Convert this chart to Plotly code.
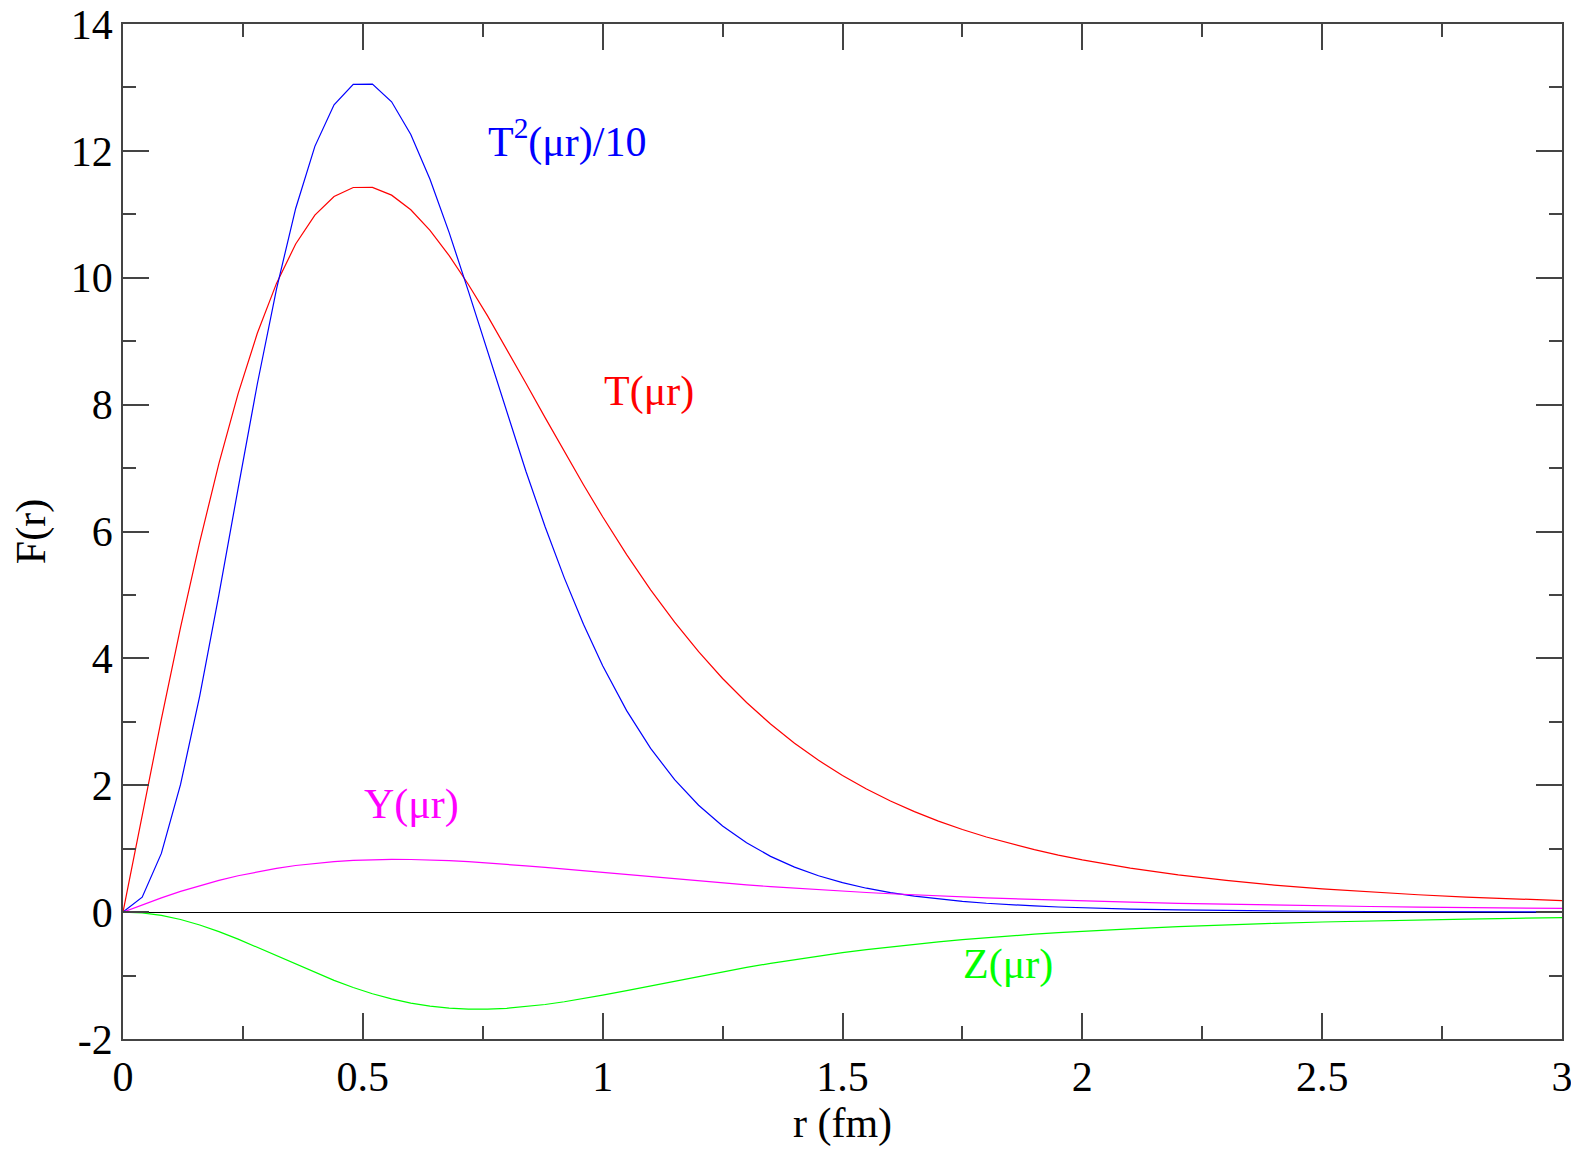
import plotly.graph_objects as go

r = [0.0, 0.04, 0.08, 0.12, 0.16, 0.20, 0.24, 0.28, 0.32, 0.36, 0.40, 0.44, 0.48,
     0.52, 0.56, 0.60, 0.64, 0.68, 0.72, 0.76, 0.80, 0.84, 0.88, 0.92, 0.96, 1.00,
     1.05, 1.1, 1.15, 1.2, 1.25, 1.3, 1.35, 1.4, 1.45, 1.5, 1.55, 1.6, 1.65, 1.7,
     1.75, 1.8, 1.85, 1.9, 1.95, 2.0, 2.1, 2.2, 2.3, 2.4, 2.5,
     2.6, 2.7, 2.8, 2.9, 3.0]

T_mu_r = [0.0, 1.537, 3.043, 4.487, 5.838, 7.074, 8.174, 9.124, 9.911, 10.532, 10.987,
          11.281, 11.423, 11.425, 11.302, 11.071, 10.748, 10.350, 9.894, 9.399, 8.875,
          8.336, 7.795, 7.259, 6.736, 6.232,
          5.636, 5.080, 4.570, 4.105, 3.683, 3.305, 2.965, 2.663, 2.393, 2.154, 1.941,
          1.752, 1.584, 1.435, 1.302, 1.184, 1.078, 0.984, 0.899, 0.823,
          0.693, 0.587, 0.499, 0.427, 0.367, 0.316, 0.274, 0.238, 0.207, 0.181]

T2_over_10 = [0.0, 0.236, 0.926, 2.013, 3.408, 5.004, 6.681, 8.325, 9.822, 11.092, 12.071,
              12.726, 13.048, 13.053, 12.774, 12.257, 11.552, 10.712, 9.790, 8.834, 7.877,
              6.949, 6.076, 5.269, 4.538, 3.884,
              3.176, 2.581, 2.088, 1.685, 1.357, 1.092, 0.879, 0.709, 0.573, 0.464, 0.377,
              0.307, 0.251, 0.206, 0.170, 0.140, 0.116, 0.097, 0.081, 0.068,
              0.048, 0.034, 0.025, 0.018, 0.0135, 0.0100, 0.0075, 0.0057, 0.0043, 0.0033]

Y_mu_r = [0.0, 0.1165, 0.2254, 0.3261, 0.4178, 0.5003, 0.5733, 0.6367, 0.6905, 0.7349,
          0.7703, 0.7971, 0.8158, 0.8271, 0.8315, 0.8299, 0.8227, 0.8109, 0.7951, 0.7759,
          0.7540, 0.7300, 0.7043, 0.6776, 0.6502, 0.6225,
          0.5880, 0.5539, 0.5208, 0.4890, 0.4585, 0.4296, 0.4023, 0.3767, 0.3527, 0.3303,
          0.3094, 0.2900, 0.2719, 0.2551, 0.2394, 0.2249, 0.2114, 0.1988, 0.1870, 0.1761,
          0.1564, 0.1392, 0.1242, 0.1109, 0.0993, 0.0890, 0.0799, 0.0719, 0.0647, 0.0583]

Z_mu_r = [0.0, -0.0133, -0.0526, -0.1165, -0.2024, -0.3068, -0.4256, -0.5545, -0.6885,
          -0.8230, -0.9536, -1.0764, -1.188, -1.286, -1.368, -1.434, -1.482, -1.514,
          -1.529, -1.529, -1.516, -1.491, -1.456, -1.413, -1.363, -1.309,
          -1.237, -1.162, -1.087, -1.012, -0.941, -0.872, -0.807, -0.747, -0.690, -0.638,
          -0.590, -0.546, -0.505, -0.468, -0.434, -0.403, -0.374, -0.348, -0.324, -0.302,
          -0.263, -0.230, -0.201, -0.177, -0.156, -0.138, -0.122, -0.109, -0.097, -0.086]

x_ticks = [0, 0.5, 1, 1.5, 2, 2.5, 3]
x_tick_text = ["0", "0.5", "1", "1.5", "2", "2.5", "3"]
y_ticks = [-2, 0, 2, 4, 6, 8, 10, 12, 14]
y_tick_text = ["-2", "0", "2", "4", "6", "8", "10", "12", "14"]

FONT = "Liberation Serif, Times New Roman, serif"
FS = 42

fig = go.Figure()
fig.add_trace(go.Scatter(x=r, y=T_mu_r, mode="lines", line=dict(color="#ff0000", width=1.2)))
fig.add_trace(go.Scatter(x=r, y=T2_over_10, mode="lines", line=dict(color="#0000ff", width=1.2)))
fig.add_trace(go.Scatter(x=r, y=Y_mu_r, mode="lines", line=dict(color="#ff00ff", width=1.2)))
fig.add_trace(go.Scatter(x=r, y=Z_mu_r, mode="lines", line=dict(color="#00ff00", width=1.2)))

axis_common = dict(
    showgrid=False, showline=True, linecolor="#444", linewidth=1.5, mirror="allticks",
    ticks="inside", ticklen=26, tickwidth=1.5, tickcolor="#444", automargin=False,
    ticklabeloverflow="allow",
    tickfont=dict(family=FONT, size=FS, color="black"),
)

fig.update_xaxes(range=[0, 3], tickvals=x_ticks, ticktext=x_tick_text,
                 minor=dict(ticks="inside", ticklen=13, dtick=0.25, tickcolor="#444", tickwidth=1.5),
                 zeroline=False,
                 title=dict(text="r (fm)", font=dict(family=FONT, size=FS, color="black"), standoff=6),
                 **axis_common)
fig.update_yaxes(range=[-2, 14], tickvals=y_ticks, ticktext=y_tick_text,
                 minor=dict(ticks="inside", ticklen=13, dtick=1, tickcolor="#444", tickwidth=1.5),
                 zeroline=True, zerolinecolor="black", zerolinewidth=1.2,
                 title=dict(text="F(r)", font=dict(family=FONT, size=FS, color="black"), standoff=17),
                 **axis_common)

ann_font = lambda c: dict(family=FONT, size=FS, color=c)
fig.add_annotation(x=0.757, y=12.19, text="T<sup>2</sup>(μr)/10", showarrow=False,
                   xanchor="left", yanchor="middle", font=ann_font("#0000ff"))
fig.add_annotation(x=0.998, y=8.2, text="T(μr)", showarrow=False,
                   xanchor="left", yanchor="middle", font=ann_font("#ff0000"))
fig.add_annotation(x=0.499, y=1.69, text="Y(μr)", showarrow=False,
                   xanchor="left", yanchor="middle", font=ann_font("#ff00ff"))
fig.add_annotation(x=1.748, y=-0.83, text="Z(μr)", showarrow=False,
                   xanchor="left", yanchor="middle", font=ann_font("#00ff00"))

fig.update_layout(
    width=1579, height=1149,
    margin=dict(l=115, r=25, t=16, b=118),
    plot_bgcolor="white", paper_bgcolor="white",
    showlegend=False,
)

fig.write_html("out.html")
